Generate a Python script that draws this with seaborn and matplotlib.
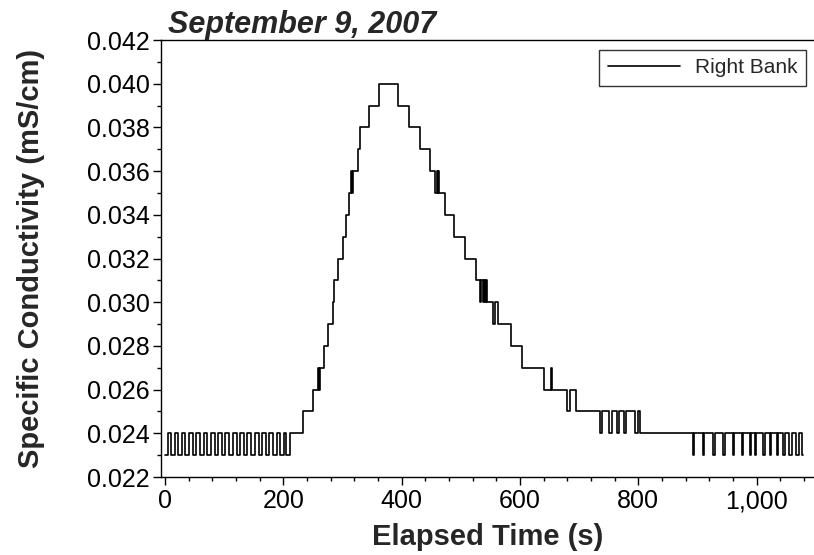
import numpy as np
import pandas as pd
import matplotlib
matplotlib.use("Agg")
import matplotlib.pyplot as plt
from matplotlib.ticker import MultipleLocator, FormatStrFormatter, FuncFormatter
import seaborn as sns

# ---- data: step change points (time in s, specific conductivity in mS/cm) ----
pre_t = [0, 4, 10, 16, 22, 28, 34, 41, 47, 53, 59, 65, 71, 78, 84, 90, 96, 102, 108,
         115, 121, 127, 133, 139, 145, 152, 158, 164, 170, 176, 182, 189, 195, 201, 205]
pre_v = [0.023, 0.024, 0.023, 0.024, 0.023, 0.024, 0.023, 0.024, 0.023, 0.024, 0.023,
         0.024, 0.023, 0.024, 0.023, 0.024, 0.023, 0.024, 0.023, 0.024, 0.023, 0.024,
         0.023, 0.024, 0.023, 0.024, 0.023, 0.024, 0.023, 0.024, 0.023, 0.024, 0.023,
         0.024, 0.023]

rise_t = [211, 233, 250, 259, 260, 261, 268, 275, 283, 286, 292, 300, 306, 310,
          315, 316, 317, 326, 330, 344, 362]
rise_v = [0.024, 0.025, 0.026, 0.027, 0.026, 0.027, 0.028, 0.029, 0.030, 0.031,
          0.032, 0.033, 0.034, 0.035, 0.036, 0.035, 0.036, 0.037, 0.038, 0.039, 0.040]

fall_t = [393, 413, 431, 448, 457, 459, 461, 462, 463, 473, 488, 507, 525,
          532, 534, 537, 539, 541, 543, 544, 555, 557, 563, 585, 604, 640, 652, 654,
          679, 684, 694, 735, 738, 750, 756, 764, 768, 775, 779, 795, 799, 803]
fall_v = [0.039, 0.038, 0.037, 0.036, 0.035, 0.036, 0.035, 0.036, 0.035, 0.034,
          0.033, 0.032, 0.031, 0.030, 0.031, 0.030, 0.031, 0.030, 0.031, 0.030,
          0.029, 0.030, 0.029, 0.028, 0.027, 0.026, 0.027, 0.026, 0.025, 0.026,
          0.025, 0.024, 0.025, 0.024, 0.025, 0.024, 0.025, 0.024, 0.025, 0.024,
          0.025, 0.024]

post_t = [892, 894, 909, 911, 926, 929, 943, 946, 960, 962, 975, 977, 988, 990,
          997, 999, 1010, 1015, 1022, 1024, 1034, 1036, 1044, 1048, 1054, 1060,
          1066, 1072, 1076, 1079]
post_v = [0.023, 0.024, 0.023, 0.024, 0.023, 0.024, 0.023, 0.024, 0.023, 0.024,
          0.023, 0.024, 0.023, 0.024, 0.023, 0.024, 0.023, 0.024, 0.023, 0.024,
          0.023, 0.024, 0.023, 0.024, 0.023, 0.024, 0.023, 0.024, 0.023, 0.023]

x_ticks = [0, 200, 400, 600, 800, 1000]
y_ticks = [0.022, 0.024, 0.026, 0.028, 0.030, 0.032, 0.034, 0.036, 0.038, 0.040, 0.042]

df = pd.DataFrame({
    "t": pre_t + rise_t + fall_t + post_t,
    "v": pre_v + rise_v + fall_v + post_v,
})

sns.set_style("ticks")
plt.rcParams["font.family"] = ["Liberation Sans", "DejaVu Sans"]

fig = plt.figure(figsize=(8.14, 5.55), dpi=100)
ax = fig.add_axes([161 / 814, 1 - 477 / 555, (814 - 161) / 814, (477 - 40) / 555])

sns.lineplot(data=df, x="t", y="v", ax=ax, drawstyle="steps-post", color="black",
             linewidth=1.2, estimator=None, sort=False, label="Right Bank")

ax.set_xlim(-7, 1097)
ax.set_ylim(0.022, 0.042)
ax.set_xticks(x_ticks)
ax.set_yticks(y_ticks)
ax.xaxis.set_minor_locator(MultipleLocator(40))
ax.yaxis.set_minor_locator(MultipleLocator(0.001))
ax.yaxis.set_major_formatter(FormatStrFormatter("%.3f"))
ax.xaxis.set_major_formatter(FuncFormatter(lambda v, p: f"{int(round(v)):,}"))

ax.tick_params(which="major", direction="out", length=6, width=1, labelsize=18,
               color="black", labelcolor="black")
ax.tick_params(which="minor", direction="out", length=3, width=1, color="black")
ax.tick_params(axis="y", which="major", pad=2)
ax.tick_params(axis="x", which="major", pad=3)

for side in ["left", "bottom", "top"]:
    ax.spines[side].set_visible(True)
    ax.spines[side].set_linewidth(1.0)
    ax.spines[side].set_color("black")
ax.spines["right"].set_visible(False)

ax.set_xlabel("Elapsed Time (s)", fontsize=21, fontweight="bold", labelpad=7)
ax.set_ylabel("Specific Conductivity (mS/cm)", fontsize=21, fontweight="bold", labelpad=30)

fig.text(168 / 814, 1 - 33 / 555, "September 9, 2007", fontsize=22,
         fontweight="bold", fontstyle="italic", ha="left", va="baseline")

leg = ax.legend(loc="upper right", bbox_to_anchor=(806 / 814, 1 - 50 / 555),
                bbox_transform=fig.transFigure, frameon=True, fancybox=False,
                fontsize=15, handlelength=3.5, handletextpad=0.7, borderpad=0.4,
                borderaxespad=0)
leg.get_frame().set_edgecolor("black")
leg.get_frame().set_linewidth(1.0)

fig.savefig("out.png", dpi=100)
